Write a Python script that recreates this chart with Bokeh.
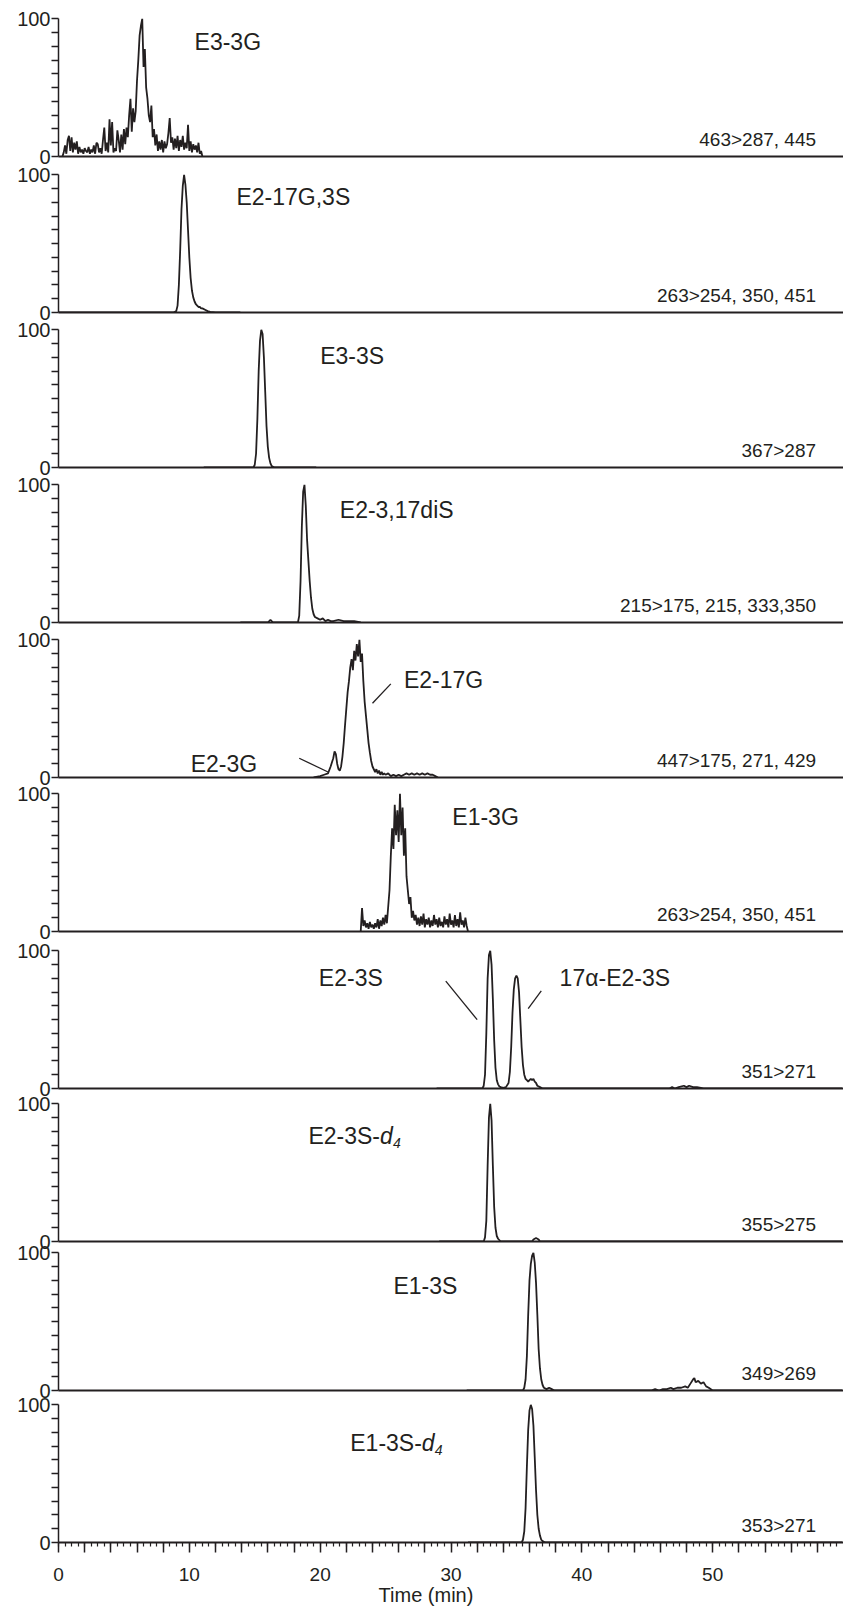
from bokeh.plotting import figure
from bokeh.layouts import column
from bokeh.models import Range1d, FixedTicker
from bokeh.core.properties import value
from bokeh.embed import file_html
from bokeh.resources import INLINE

INK = "#231f20"
FONT = "Liberation Sans"

# ---------------- data (time in min, relative intensity %) ----------------
e3_3g = [(0.3,0),(0.4,3),(0.5,8),(0.6,2),(0.7,12),(0.8,15),(0.9,4),(1.0,14),(1.1,3),(1.2,10),(1.3,5),(1.4,11),
         (1.5,2),(1.6,7),(1.7,3),(1.8,5),(1.9,2),(2.0,6),(2.1,4),(2.2,3),(2.3,7),(2.4,2),(2.5,5),(2.6,3),(2.7,8),
         (2.8,2),(2.9,10),(3.0,9),(3.1,3),(3.2,6),(3.3,2),(3.4,12),(3.5,21),(3.6,4),(3.7,10),(3.8,3),(3.9,27),
         (4.0,8),(4.1,25),(4.2,3),(4.3,6),(4.4,4),(4.5,19),(4.6,12),(4.7,3),(4.8,16),(4.9,5),(5.0,20),(5.1,9),
         (5.2,21),(5.3,14),(5.4,30),(5.5,42),(5.6,18),(5.7,35),(5.8,25),(5.9,33),(6.0,55),(6.1,70),(6.2,88),
         (6.3,95),(6.4,100),(6.5,65),(6.6,78),(6.7,50),(6.8,42),(6.9,30),(7.0,25),(7.1,37),(7.2,14),(7.3,20),
         (7.4,8),(7.5,16),(7.6,4),(7.7,11),(7.8,5),(7.9,12),(8.0,3),(8.1,11),(8.2,6),(8.3,9),(8.4,17),(8.5,28),
         (8.6,10),(8.7,14),(8.8,5),(8.9,13),(9.0,6),(9.1,15),(9.2,4),(9.3,12),(9.4,7),(9.5,15),(9.6,5),(9.7,10),
         (9.8,6),(9.9,23),(10.0,4),(10.1,11),(10.2,3),(10.3,9),(10.4,5),(10.5,8),(10.6,3),(10.7,10),(10.8,2),
         (10.9,4),(11.0,0)]
e2_17g3s = [(0.0,0),(8.8,0),(9.0,1),(9.1,5),(9.2,20),(9.3,45),(9.4,75),(9.5,92),(9.6,100),(9.7,93),(9.8,80),
            (9.9,60),(10.0,40),(10.1,25),(10.2,16),(10.3,11),(10.4,8),(10.5,6),(10.6,5),(10.7,4),(10.8,4),
            (10.9,3),(11.0,3),(11.2,2),(11.4,1),(11.6,0.5),(12.0,0),(13.9,0)]
e3_3s = [(11.1,0),(14.9,0),(15.0,2),(15.1,10),(15.2,35),(15.3,70),(15.4,92),(15.5,100),(15.6,97),(15.7,80),
         (15.8,55),(15.9,30),(16.0,15),(16.1,7),(16.2,3),(16.3,1),(16.5,0),(19.7,0)]
e2_317dis = [(13.9,0),(16.0,0),(16.2,2),(16.4,0),(18.3,0),(18.4,5),(18.5,30),(18.6,70),(18.7,95),(18.8,100),
             (18.9,85),(19.0,60),(19.1,45),(19.2,30),(19.3,18),(19.4,10),(19.5,6),(19.6,4),(19.8,3),(20.0,2),
             (20.2,3),(20.4,1),(20.6,2),(20.8,1),(21.0,1),(21.4,2),(21.8,1),(22.2,1),(22.6,1),(23.1,0)]
e2_17g = [(19.5,0),(20.0,1),(20.3,2),(20.6,3),(20.8,8),(21.0,14),(21.1,19),(21.2,17),(21.3,10),(21.4,6),
          (21.5,5),(21.6,8),(21.7,15),(21.8,25),(21.9,38),(22.0,50),(22.1,62),(22.2,70),(22.3,80),(22.4,86),
          (22.5,78),(22.6,92),(22.7,85),(22.8,97),(22.9,88),(23.0,100),(23.1,84),(23.2,90),(23.3,70),(23.4,55),
          (23.5,45),(23.6,35),(23.7,25),(23.8,18),(23.9,12),(24.0,8),(24.1,6),(24.2,4),(24.3,6),(24.4,3),
          (24.5,5),(24.6,2),(24.7,4),(24.8,2),(24.9,3),(25.0,2),(25.2,3),(25.4,1),(25.6,2),(25.8,1),(26.0,2),
          (26.2,1),(26.4,2),(26.6,3),(26.8,2),(27.0,3),(27.2,2),(27.4,3),(27.6,2),(27.8,3),(28.0,2),(28.2,3),
          (28.4,2),(28.6,2),(28.8,1),(29.0,0)]
e1_3g = [(23.1,0),(23.2,17),(23.3,4),(23.4,8),(23.5,3),(23.6,6),(23.7,2),(23.8,7),(23.9,3),(24.0,5),(24.1,2),
         (24.2,6),(24.3,3),(24.4,9),(24.5,2),(24.6,8),(24.7,4),(24.8,10),(24.9,5),(25.0,12),(25.1,6),(25.2,18),
         (25.3,30),(25.4,55),(25.5,75),(25.6,60),(25.7,92),(25.8,70),(25.9,88),(26.0,65),(26.1,100),(26.2,70),
         (26.3,90),(26.4,55),(26.5,75),(26.6,40),(26.7,30),(26.8,20),(26.9,25),(27.0,10),(27.1,15),(27.2,8),
         (27.3,12),(27.4,5),(27.5,10),(27.6,4),(27.7,11),(27.8,5),(27.9,13),(28.0,3),(28.1,9),(28.2,5),(28.3,10),
         (28.4,3),(28.5,8),(28.6,4),(28.7,12),(28.8,5),(28.9,9),(29.0,3),(29.1,10),(29.2,4),(29.3,7),(29.4,3),
         (29.5,11),(29.6,5),(29.7,9),(29.8,3),(29.9,13),(30.0,5),(30.1,8),(30.2,3),(30.3,12),(30.4,4),(30.5,9),
         (30.6,3),(30.7,14),(30.8,5),(30.9,8),(31.0,3),(31.1,10),(31.2,4),(31.3,0)]
e2_3s = [(28.9,0),(32.4,0),(32.5,2),(32.6,10),(32.7,40),(32.8,80),(32.9,97),(33.0,100),(33.1,90),(33.2,65),
         (33.3,35),(33.4,15),(33.5,6),(33.6,3),(33.7,1.5),(33.8,1),(34.0,0.5),(34.2,1),(34.4,4),(34.5,12),
         (34.6,30),(34.7,55),(34.8,72),(34.9,80),(35.0,82),(35.1,80),(35.2,70),(35.3,50),(35.4,30),(35.5,17),
         (35.6,10),(35.7,7),(35.8,6),(35.9,5),(36.0,6),(36.1,7),(36.2,6),(36.3,7),(36.4,5),(36.5,4),(36.6,2),
         (36.8,1),(37.0,0),(46.7,0),(46.9,1),(47.1,0),(47.4,1),(47.8,2),(48.0,1),(48.2,2),(48.5,1),(48.8,1),
         (49.3,0),(59.9,0)]
e2_3s_d4 = [(29.1,0),(32.5,0),(32.6,3),(32.7,15),(32.8,55),(32.9,90),(33.0,100),(33.1,88),(33.2,55),(33.3,25),
            (33.4,10),(33.5,4),(33.6,2),(33.8,0),(36.2,0),(36.3,1.5),(36.5,2.5),(36.7,1.5),(36.8,0),(59.9,0)]
e1_3s = [(31.2,0),(35.5,0),(35.6,2),(35.7,8),(35.8,25),(35.9,55),(36.0,80),(36.1,92),(36.2,98),(36.3,100),
         (36.4,93),(36.5,78),(36.6,55),(36.7,30),(36.8,16),(36.9,8),(37.0,4),(37.1,2),(37.3,1),(37.5,2),(37.7,1),
         (37.9,0),(45.3,0),(45.6,1),(45.9,0),(46.2,1),(46.5,1),(46.8,2),(47.0,1),(47.3,2),(47.6,2),(47.9,3),
         (48.1,2),(48.3,5),(48.5,8),(48.6,9),(48.7,6),(48.9,7),(49.1,5),(49.3,6),(49.5,3),(49.7,2),(50.0,0),(59.9,0)]
e1_3s_d4 = [(31.3,0),(35.4,0),(35.5,2),(35.6,8),(35.7,25),(35.8,55),(35.9,82),(36.0,96),(36.1,100),(36.2,97),
            (36.3,85),(36.4,62),(36.5,38),(36.6,20),(36.7,10),(36.8,5),(36.9,2),(37.0,1),(37.2,0),(59.9,0)]

traces = [e3_3g, e2_17g3s, e3_3s, e2_317dis, e2_17g, e1_3g, e2_3s, e2_3s_d4, e1_3s, e1_3s_d4]

transitions = ["463>287, 445", "263>254, 350, 451", "367>287", "215>175, 215, 333,350",
               "447>175, 271, 429", "263>254, 350, 451", "351>271", "355>275", "349>269", "353>271"]

# peak names: (text, time of left edge, % height, italic-d4 suffix)
peak_names = [
    [("E3-3G", 10.4, 83, False)],
    [("E2-17G,3S", 13.6, 84, False)],
    [("E3-3S", 20.0, 81, False)],
    [("E2-3,17diS", 21.5, 82, False)],
    [("E2-17G", 26.4, 71, False), ("E2-3G", 10.1, 10, False)],
    [("E1-3G", 30.1, 83, False)],
    [("E2-3S", 19.9, 80, False), ("17\u03b1-E2-3S", 38.3, 80, False)],
    [("E2-3S-", 19.1, 77, True)],
    [("E1-3S", 25.6, 76, False)],
    [("E1-3S-", 22.3, 72, True)],
]
# leader lines: (t0, y0, t1, y1)
leaders = [[], [], [], [],
           [(18.4, 14, 20.6, 4), (25.4, 68, 24.0, 54)],
           [],
           [(29.6, 78, 32.0, 50), (36.9, 71, 35.9, 58)],
           [], [], []]

y_ticks = [0, 100]
y_minor = [10, 20, 30, 40, 50, 60, 70, 80, 90]
x_ticks = [0, 2, 4, 6, 8, 10, 12, 14, 16, 18, 20, 22, 24, 26, 28, 30, 32, 34, 36, 38, 40, 42, 44, 46, 48, 50,
           52, 54, 56, 58]
x_tick_labels = ["0", "10", "20", "30", "40", "50"]
x_labelled = [0, 10, 20, 30, 40, 50]
x_minor = [i * 0.5 for i in range(0, 120)]
x_title = "Time (min)"

# ---------------- layout (pixel baselines of each panel) ----------------
W = 843
H = 1611
LEFT = 58
baselines = [156, 312, 467, 622, 777, 931, 1088, 1241, 1390, 1542]
FRAME_H = 139          # y 0..101
BOTTOM_PAD = 8
EXT = 12               # canvases overlap their neighbours by this much (transparent)

n = len(traces)
figs = []
start = 0
for i, tr in enumerate(traces):
    last = i == n - 1
    b = baselines[i]
    end = H if last else b + BOTTOM_PAD
    ext_top = 0 if i == 0 else EXT
    ext_bot = 0 if last else EXT
    top = (b - FRAME_H) - start + ext_top
    bottom = end - b + ext_bot
    p = figure(width=W, height=end - start + ext_top + ext_bot, x_range=Range1d(0, 60),
               y_range=Range1d(0, 101), output_backend="svg", toolbar_location=None,
               min_border_left=LEFT, min_border_right=0, min_border_top=top, min_border_bottom=bottom,
               margin=(-ext_top, 0, -ext_bot, 0))
    p.outline_line_color = None
    p.xgrid.visible = False
    p.ygrid.visible = False
    p.background_fill_alpha = 0
    p.border_fill_alpha = 0

    yax = p.yaxis[0]
    yax.ticker = FixedTicker(ticks=y_ticks, minor_ticks=y_minor)
    yax.bounds = (0, 100)
    yax.axis_line_width = 1.5
    yax.axis_line_color = INK
    yax.major_tick_in = 0
    yax.major_tick_out = 7
    yax.minor_tick_in = 0
    yax.minor_tick_out = 7
    yax.major_tick_line_width = 1.5
    yax.minor_tick_line_width = 1.5
    yax.major_tick_line_color = INK
    yax.minor_tick_line_color = INK
    yax.major_label_text_font = FONT
    yax.major_label_text_font_size = "20px"
    yax.major_label_text_color = INK
    yax.major_label_standoff = 1

    xax = p.xaxis[0]
    xax.axis_line_width = 2
    xax.axis_line_color = INK
    if not last:
        xax.ticker = FixedTicker(ticks=[])
        xax.major_tick_out = 0
        xax.major_tick_in = 0
        xax.minor_tick_out = 0
        xax.minor_tick_in = 0
        xax.major_label_text_font_size = "0px"
        xax.major_label_standoff = 0
    else:
        xax.ticker = FixedTicker(ticks=x_ticks, minor_ticks=x_minor)
        xax.major_label_overrides = {t: (x_tick_labels[x_labelled.index(t)] if t in x_labelled else "")
                                     for t in x_ticks}
        xax.major_tick_in = 0
        xax.major_tick_out = 10
        xax.minor_tick_in = 0
        xax.minor_tick_out = 4
        xax.major_tick_line_width = 1.5
        xax.minor_tick_line_width = 1.2
        xax.major_tick_line_color = INK
        xax.minor_tick_line_color = INK
        xax.major_label_text_font = FONT
        xax.major_label_text_font_size = "19px"
        xax.major_label_text_color = INK
        xax.major_label_standoff = 15
        xax.axis_label = x_title + "\u00a0" * 9
        xax.axis_label_text_font = FONT
        xax.axis_label_text_font_size = "20px"
        xax.axis_label_text_font_style = "normal"
        xax.axis_label_text_color = INK
        xax.axis_label_standoff = 0

    ts = [pt[0] for pt in tr]
    ys = [pt[1] for pt in tr]
    p.line(ts, ys, line_width=1.8, line_color=INK)

    for (t0, y0, t1, y1) in leaders[i]:
        p.segment(x0=[t0], y0=[y0], x1=[t1], y1=[y1], line_width=1.3, line_color=INK)

    for (txt, tx, ty, d4) in peak_names[i]:
        p.text(x=[tx], y=[ty], text=[txt], text_font=value(FONT), text_font_size="23px",
               text_color=INK, text_baseline="middle", text_align="left")
        if d4:
            w = 71.5
            p.text(x=[tx], y=[ty], text=["d"], x_offset=w, text_font=value(FONT), text_font_size="23px",
                   text_font_style="italic", text_color=INK, text_baseline="middle", text_align="left")
            p.text(x=[tx], y=[ty], text=["4"], x_offset=w + 13, y_offset=7, text_font=value(FONT),
                   text_font_size="14px", text_font_style="italic", text_color=INK,
                   text_baseline="middle", text_align="left")

    p.text(x=[57.9], y=[12], text=[transitions[i]], text_font=value(FONT), text_font_size="19px",
           text_color=INK, text_baseline="middle", text_align="right")

    figs.append(p)
    start = end

layout = column(*figs, spacing=0)
open("out.html", "w").write(file_html(layout, INLINE))
